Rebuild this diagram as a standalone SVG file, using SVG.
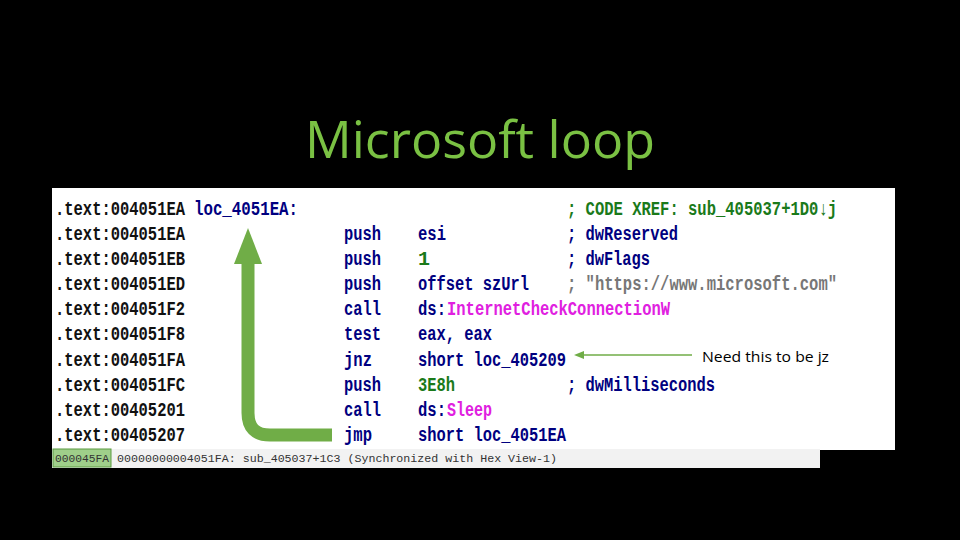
<svg xmlns="http://www.w3.org/2000/svg" width="960" height="540" viewBox="0 0 960 540">
<style>
.c{font-family:"Liberation Mono",monospace;font-size:20px;font-weight:bold}
.a{fill:#111}.m{fill:#000080}.g{fill:#1a7a1a}.p{fill:#e020e0}.y{fill:#777}
.s{font-family:"Liberation Mono",monospace;font-size:11px;fill:#333}
</style>
<rect width="960" height="540" fill="#000"/>
<text x="480" y="158" text-anchor="middle" font-family="Open Sans,sans-serif" font-size="52" fill="#7ac143" textLength="350" lengthAdjust="spacingAndGlyphs">Microsoft loop</text>
<g id="listing">
<rect x="52" y="188" width="843" height="262" fill="#fff"/>
<rect x="52" y="449" width="768" height="19" fill="#f2f2f2"/>
<rect x="53" y="449" width="58" height="18" fill="#9fcf8a" stroke="#5a9a40"/>
<text class="s" x="55" y="462" textLength="54" lengthAdjust="spacingAndGlyphs">000045FA</text>
<text class="s" x="117" y="462" textLength="440" lengthAdjust="spacingAndGlyphs">00000000004051FA: sub_405037+1C3 (Synchronized with Hex View-1)</text>
<g class="c">
<text class="a" x="55" y="215" textLength="130" lengthAdjust="spacingAndGlyphs">.text:004051EA</text>
<text class="m" x="194" y="215" textLength="104" lengthAdjust="spacingAndGlyphs">loc_4051EA:</text>
<text class="g" x="567" y="215" textLength="270" lengthAdjust="spacingAndGlyphs">; CODE XREF: sub_405037+1D0↓j</text>
<text class="a" x="55" y="240" textLength="130" lengthAdjust="spacingAndGlyphs">.text:004051EA</text>
<text class="m" x="344" y="240" textLength="37" lengthAdjust="spacingAndGlyphs">push</text>
<text class="m" x="418" y="240" textLength="28" lengthAdjust="spacingAndGlyphs">esi</text>
<text class="m" x="567" y="240" textLength="111" lengthAdjust="spacingAndGlyphs">; dwReserved</text>
<text class="a" x="55" y="265" textLength="130" lengthAdjust="spacingAndGlyphs">.text:004051EB</text>
<text class="m" x="344" y="265" textLength="37" lengthAdjust="spacingAndGlyphs">push</text>
<text class="g" x="418" y="265">1</text>
<text class="m" x="567" y="265" textLength="83" lengthAdjust="spacingAndGlyphs">; dwFlags</text>
<text class="a" x="55" y="290" textLength="130" lengthAdjust="spacingAndGlyphs">.text:004051ED</text>
<text class="m" x="344" y="290" textLength="37" lengthAdjust="spacingAndGlyphs">push</text>
<text class="m" x="418" y="290" textLength="111" lengthAdjust="spacingAndGlyphs">offset szUrl</text>
<text class="y" x="567" y="290" textLength="270" lengthAdjust="spacingAndGlyphs">; "https://www.microsoft.com"</text>
<text class="a" x="55" y="315" textLength="130" lengthAdjust="spacingAndGlyphs">.text:004051F2</text>
<text class="m" x="344" y="315" textLength="37" lengthAdjust="spacingAndGlyphs">call</text>
<text class="m" x="418" y="315" textLength="28" lengthAdjust="spacingAndGlyphs">ds:</text>
<text class="p" x="447" y="315" textLength="223" lengthAdjust="spacingAndGlyphs">InternetCheckConnectionW</text>
<text class="a" x="55" y="340" textLength="130" lengthAdjust="spacingAndGlyphs">.text:004051F8</text>
<text class="m" x="344" y="340" textLength="37" lengthAdjust="spacingAndGlyphs">test</text>
<text class="m" x="418" y="340" textLength="74" lengthAdjust="spacingAndGlyphs">eax, eax</text>
<text class="a" x="55" y="366" textLength="130" lengthAdjust="spacingAndGlyphs">.text:004051FA</text>
<text class="m" x="344" y="366" textLength="28" lengthAdjust="spacingAndGlyphs">jnz</text>
<text class="m" x="418" y="366" textLength="148" lengthAdjust="spacingAndGlyphs">short loc_405209</text>
<text class="a" x="55" y="391" textLength="130" lengthAdjust="spacingAndGlyphs">.text:004051FC</text>
<text class="m" x="344" y="391" textLength="37" lengthAdjust="spacingAndGlyphs">push</text>
<text class="g" x="418" y="391" textLength="37" lengthAdjust="spacingAndGlyphs">3E8h</text>
<text class="m" x="567" y="391" textLength="148" lengthAdjust="spacingAndGlyphs">; dwMilliseconds</text>
<text class="a" x="55" y="416" textLength="130" lengthAdjust="spacingAndGlyphs">.text:00405201</text>
<text class="m" x="344" y="416" textLength="37" lengthAdjust="spacingAndGlyphs">call</text>
<text class="m" x="418" y="416" textLength="28" lengthAdjust="spacingAndGlyphs">ds:</text>
<text class="p" x="447" y="416" textLength="45" lengthAdjust="spacingAndGlyphs">Sleep</text>
<text class="a" x="55" y="441" textLength="130" lengthAdjust="spacingAndGlyphs">.text:00405207</text>
<text class="m" x="344" y="441" textLength="28" lengthAdjust="spacingAndGlyphs">jmp</text>
<text class="m" x="418" y="441" textLength="148" lengthAdjust="spacingAndGlyphs">short loc_4051EA</text>
</g>
</g>
<g id="connectors">
<path d="M332 435 H270 Q248 435 248 413 V262" fill="none" stroke="#70ad47" stroke-width="13"/>
<polygon points="234,264 262,264 248,228" fill="#70ad47"/>
<line x1="583" y1="355" x2="692" y2="355" stroke="#70ad47" stroke-width="1.5"/>
<polygon points="574,355 584,351 584,359" fill="#70ad47"/>
</g>
<g id="note">
<text x="702" y="362" font-family="Open Sans,sans-serif" font-size="14.5" fill="#000" textLength="127" lengthAdjust="spacingAndGlyphs">Need this to be jz</text>
</g>
</svg>
